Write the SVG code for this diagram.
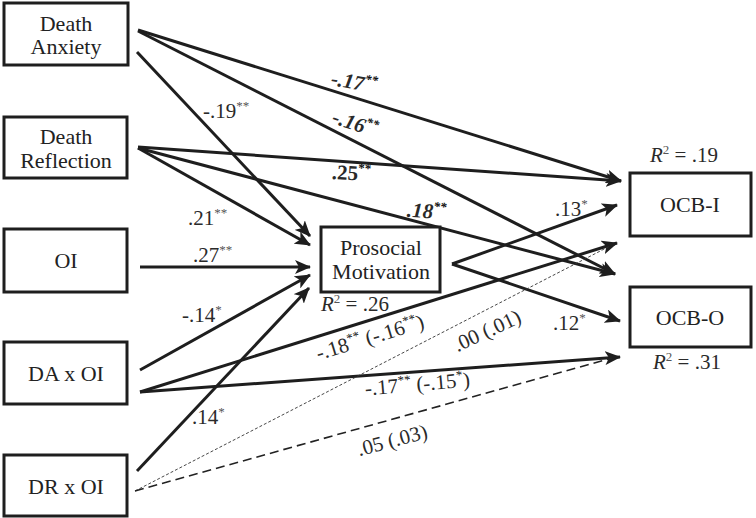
<svg xmlns="http://www.w3.org/2000/svg" width="756" height="518" viewBox="0 0 756 518">
<style>
.box{fill:#fff;stroke:#1e1e1e;stroke-width:3}
.nt{font-family:"Liberation Serif","Times New Roman",serif;font-size:22px;fill:#222;text-anchor:middle}
.lb{font-family:"Liberation Serif","Times New Roman",serif;font-size:21px;fill:#2a2a2a}
.sup{font-size:13px;fill:#555}
.supd{font-size:13px;fill:#111}
.it{font-style:italic}
.bd{font-weight:bold}
.thick{fill:none;stroke:#1e1e1e;stroke-width:3;marker-end:url(#ah)}
.dot{fill:none;stroke:#333;stroke-width:0.9;stroke-dasharray:3 2}
.dash{fill:none;stroke:#222;stroke-width:1.6;stroke-dasharray:9 5}
</style>
<defs>
<marker id="ah" markerUnits="userSpaceOnUse" markerWidth="18" markerHeight="14" refX="15" refY="7" orient="auto">
<path d="M0,0 L16,7 L0,14 L4,7 Z" fill="#1e1e1e"/>
</marker>
</defs>
<rect width="756" height="518" fill="#fff"/>
<g id="connectors">
<path class="thick" d="M138,30 L621,181"/>
<path class="thick" d="M138,31 L615,274"/>
<path class="thick" d="M137,52 L310,236"/>
<path class="thick" d="M138,147 L621,181"/>
<path class="thick" d="M138,148 L615,274"/>
<path class="thick" d="M138,148 L310,245"/>
<path class="thick" d="M140,267 L310,267"/>
<path class="thick" d="M140,370 L310,275"/>
<path class="thick" d="M140,392 L617,243"/>
<path class="thick" d="M140,392 L620,357"/>
<path class="thick" d="M137,471 L309,288"/>
<path class="thick" d="M452,264 L617,205"/>
<path class="thick" d="M452,264 L620,321"/>
<path class="dot" d="M135,491 L610,246"/>
<path class="dash" d="M135,491 L612,358"/>
</g>
<g id="death-anxiety">
<rect class="box" x="4" y="3" width="124" height="62"/>
<text class="nt" x="66" y="31">Death</text>
<text class="nt" x="66" y="54">Anxiety</text>
</g>
<g id="death-reflection">
<rect class="box" x="4" y="117" width="123" height="61"/>
<text class="nt" x="66" y="144">Death</text>
<text class="nt" x="66" y="168">Reflection</text>
</g>
<g id="oi">
<rect class="box" x="4" y="229" width="123" height="63"/>
<text class="nt" x="66" y="268">OI</text>
</g>
<g id="da-x-oi">
<rect class="box" x="4" y="342" width="123" height="62"/>
<text class="nt" x="66" y="381">DA x OI</text>
</g>
<g id="dr-x-oi">
<rect class="box" x="4" y="455" width="123" height="61"/>
<text class="nt" x="66" y="494">DR x OI</text>
</g>
<g id="prosocial-motivation">
<rect class="box" x="321" y="227" width="119" height="65"/>
<text class="nt" x="381" y="255">Prosocial</text>
<text class="nt" x="381" y="279">Motivation</text>
<text class="lb" x="321" y="311"><tspan class="it">R</tspan><tspan class="sup" dy="-8">2</tspan><tspan dy="8"> = .26</tspan></text>
</g>
<g id="ocb-i">
<rect class="box" x="630" y="173" width="121" height="63"/>
<text class="nt" x="690" y="212">OCB-I</text>
<text class="lb" x="650" y="162"><tspan class="it">R</tspan><tspan class="sup" dy="-8">2</tspan><tspan dy="8"> = .19</tspan></text>
</g>
<g id="ocb-o">
<rect class="box" x="630" y="287" width="121" height="60"/>
<text class="nt" x="690" y="325">OCB-O</text>
<text class="lb" x="653" y="369"><tspan class="it">R</tspan><tspan class="sup" dy="-8">2</tspan><tspan dy="8"> = .31</tspan></text>
</g>
<g id="labels">
<text class="lb it bd" transform="translate(353,89) rotate(10)" text-anchor="middle" fill="#111">-.17<tspan class="supd" dy="-8">**</tspan></text>
<text class="lb it bd" transform="translate(353,130) rotate(18)" text-anchor="middle" fill="#111">-.16<tspan class="supd" dy="-8">**</tspan></text>
<text class="lb bd" transform="translate(351,180) rotate(3)" text-anchor="middle" fill="#111">.25<tspan class="supd" dy="-8">**</tspan></text>
<text class="lb it bd" transform="translate(426,218) rotate(4)" text-anchor="middle" fill="#111">.18<tspan class="supd" dy="-8">**</tspan></text>
<text class="lb" x="203" y="118">-.19<tspan class="sup" dy="-8">**</tspan></text>
<text class="lb" x="188" y="225">.21<tspan class="sup" dy="-8">**</tspan></text>
<text class="lb" x="193" y="262">.27<tspan class="sup" dy="-8">**</tspan></text>
<text class="lb" x="182" y="322">-.14<tspan class="sup" dy="-8">*</tspan></text>
<text class="lb" x="192" y="424">.14<tspan class="sup" dy="-8">*</tspan></text>
<text class="lb" x="555" y="216">.13<tspan class="sup" dy="-8">*</tspan></text>
<text class="lb" x="553" y="330">.12<tspan class="sup" dy="-8">*</tspan></text>
<text class="lb" transform="translate(372,344) rotate(-17)" text-anchor="middle" fill="#111">-.18<tspan class="supd" dy="-8">**</tspan><tspan dy="8"> (-.16</tspan><tspan class="supd" dy="-8">**</tspan><tspan dy="8">)</tspan></text>
<text class="lb" transform="translate(490,337) rotate(-25)" text-anchor="middle" fill="#111">.00 (.01)</text>
<text class="lb" transform="translate(418,391) rotate(-5)" text-anchor="middle" fill="#111">-.17<tspan class="supd" dy="-8">**</tspan><tspan dy="8"> (-.15</tspan><tspan class="supd" dy="-8">*</tspan><tspan dy="8">)</tspan></text>
<text class="lb" transform="translate(394,447) rotate(-15)" text-anchor="middle" fill="#111">.05 (.03)</text>
</g>
</svg>
